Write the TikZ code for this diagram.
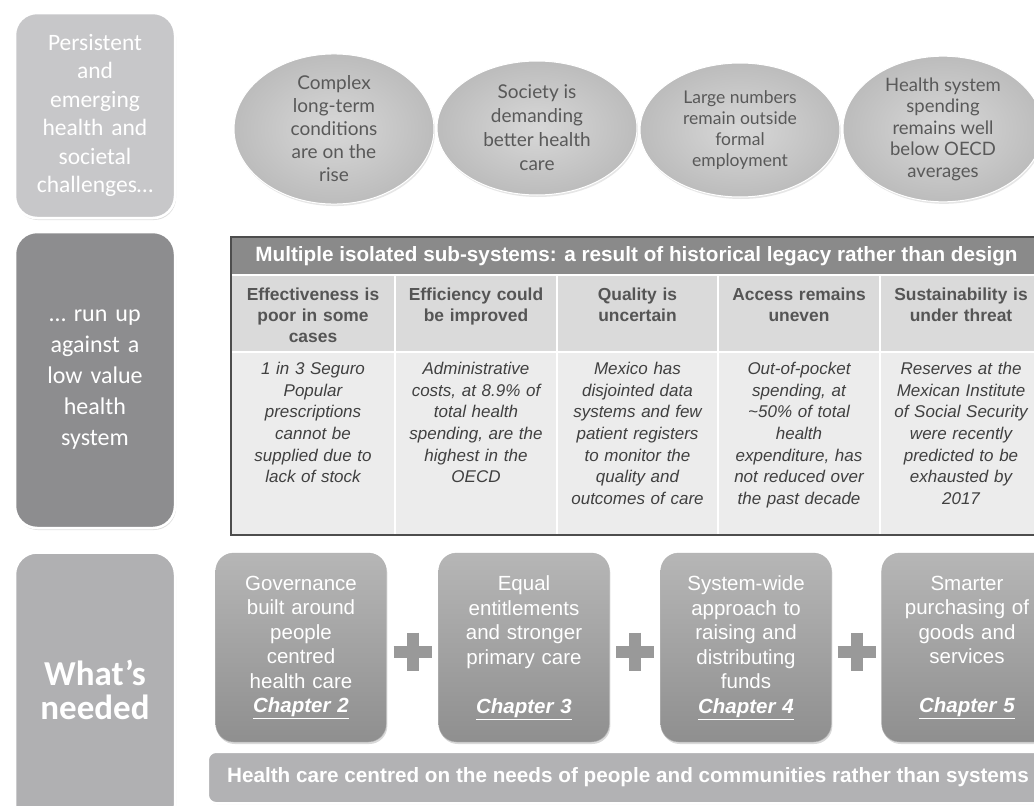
\documentclass[tikz,border=0pt]{standalone}
\usepackage{fontspec}
\setmainfont{Liberation Sans}
\newfontfamily\calfont{Carlito}
\newfontfamily\twfont{Lato}
\usetikzlibrary{shapes.geometric, shadows, calc, positioning}
\definecolor{sidelite}{RGB}{199, 199, 201}
\definecolor{sidedark}{RGB}{141, 141, 143}
\definecolor{sidemid}{RGB}{176, 176, 178}
\definecolor{ellin}{RGB}{216, 216, 216}
\definecolor{ellout}{RGB}{188, 188, 188}
\definecolor{elltext}{RGB}{89, 89, 89}
\definecolor{tabhead}{RGB}{138, 138, 138}
\definecolor{tabcol}{RGB}{218, 218, 218}
\definecolor{tabbody}{RGB}{236, 236, 236}
\definecolor{tabline}{RGB}{77, 77, 77}
\definecolor{coltext}{RGB}{85, 85, 85}
\definecolor{bodytext}{RGB}{64, 64, 64}
\definecolor{acttop}{RGB}{182, 182, 182}
\definecolor{actbot}{RGB}{143, 143, 143}
\definecolor{plusgray}{RGB}{153, 153, 153}
\definecolor{barfill}{RGB}{178, 178, 180}
\tikzset{
  sidebox/.style={rectangle, rounded corners=22pt, draw=white, line width=2.5pt, fill=#1,
                  minimum width=160pt, text width=150pt, align=center, text=white,
                  drop shadow={shadow xshift=1pt, shadow yshift=-2pt, opacity=0.25}},
  issue/.style={ellipse, draw=white, line width=1pt, inner color=ellin, outer color=ellout,
                minimum width=200pt, minimum height=134pt, inner sep=0pt, align=center,
                text=elltext, drop shadow={shadow xshift=1pt, shadow yshift=-2pt, opacity=0.2}},
  colhead/.style={anchor=north, inner sep=0pt, text width=158pt, align=center, text=coltext,
                  font=\bfseries\fontsize{17.4}{21}\selectfont},
  colbody/.style={anchor=north, inner sep=0pt, text width=160pt, align=center, text=bodytext,
                  font=\itshape\fontsize{17}{21.7}\selectfont},
  actbox/.style={rectangle, rounded corners=18pt, top color=acttop, bottom color=actbot,
                 draw=black!30, minimum width=168pt, minimum height=189pt, text width=164pt,
                 align=center, text=white, font=\fontsize{20.5}{24.5}\selectfont,
                 drop shadow={shadow xshift=1pt, shadow yshift=-2pt, opacity=0.3}},
  plusbar/.style={line width=12pt, color=plusgray},
  footbar/.style={rectangle, rounded corners=8pt, draw=white, line width=2pt, fill=barfill,
                  minimum width=840pt, minimum height=51pt, text=white,
                  font=\bfseries\fontsize{20.7}{24}\selectfont,
                  drop shadow={shadow xshift=1pt, shadow yshift=-1pt, opacity=0.2}},
}
\newcommand{\chap}[1]{\underline{\textbf{\textit{Chapter #1}}}}

\begin{document}
\begin{tikzpicture}[x=1pt, y=-1pt]
  \useasboundingbox (0,0) rectangle (1034,806);
  \clip (0,0) rectangle (1034,806);

  % left column
  \node[sidebox=sidelite, minimum height=205pt, font=\calfont\fontsize{23.5}{28.5}\selectfont]
    (challenges) at (95,115.5) {Persistent\\and\\emerging\\health and\\societal\\challenges…};
  \node[sidebox=sidedark, minimum height=296pt, font=\calfont\fontsize{24}{31}\selectfont]
    (lowvalue) at (95,380) {… run up\\against a\\low value\\health\\system};
  \node[sidebox=sidemid, minimum height=275pt, font=\calfont\bfseries\fontsize{35}{34}\selectfont]
    (needed) at (95,690) {What’s\\needed};

  % challenges
  \node[issue, font=\twfont\fontsize{19}{23}\selectfont] (longterm) at (334,129)
    {Complex\\long-term\\conditions\\are on the\\rise};
  \node[issue, font=\twfont\fontsize{19}{24}\selectfont] (society) at (537,128)
    {Society is\\demanding\\better health\\care};
  \node[issue, font=\twfont\fontsize{17.5}{21}\selectfont] (informal) at (740,130)
    {Large numbers\\remain outside\\formal\\employment};
  \node[issue, font=\twfont\fontsize{18.5}{21.5}\selectfont] (spending) at (943,129)
    {Health system\\spending\\remains well\\below OECD\\averages};

  % table of weaknesses
  \fill[tabhead] (231,237) rectangle (1042,275);
  \fill[tabcol] (231,275) rectangle (1042,352);
  \fill[tabbody] (231,352) rectangle (1042,535);
  \draw[white, line width=2pt] (231,275) -- (1042,275) (231,352) -- (1042,352);
  \foreach \x in {395,557,718,880}
    \draw[white, line width=2pt] (\x,275) -- (\x,535);
  \draw[tabline, line width=2pt] (231,237) rectangle (1042,535);
  \node[text=white, font=\bfseries\fontsize{20.7}{24}\selectfont] (legacy) at (636.5,256)
    {Multiple isolated sub-systems: a result of historical legacy rather than design};
  \foreach \x/\hd [count=\i] in {313/{Effectiveness is\\poor in some\\cases},
      476/{Efficiency could\\be improved}, 637.5/{Quality is\\uncertain},
      799/{Access remains\\uneven}, 961/{Sustainability is\\under threat}}
    \node[colhead] (head\i) at (\x,286) {\strut\hd};
  \foreach \x/\bd [count=\i] in {313/{1 in 3 Seguro\\Popular\\prescriptions\\cannot be\\supplied due to\\lack of stock},
      476/{Administrative\\costs, at 8.9\% of\\total health\\spending, are the\\highest in the\\OECD},
      637.5/{Mexico has\\disjointed data\\systems and few\\patient registers\\to monitor the\\quality and\\outcomes of care},
      799/{Out-of-pocket\\spending, at\\\textasciitilde50\% of total\\health\\expenditure, has\\not reduced over\\the past decade},
      961/{Reserves at the\\Mexican Institute\\of Social Security\\were recently\\predicted to be\\exhausted by\\2017}}
    \node[colbody] (body\i) at (\x,359) {\strut\bd};

  % what's needed
  \node[actbox] (governance) at (301,647.5)
    {Governance\\built around\\people\\centred\\health care\\\chap{2}};
  \node[actbox] (entitle) at (524,647.5)
    {Equal\\entitlements\\and stronger\\primary care\\[24.5pt]\chap{3}};
  \node[actbox] (funds) at (746,647.5)
    {System-wide\\approach to\\raising and\\distributing\\funds\\\chap{4}};
  \node[actbox] (purchase) at (967,647.5)
    {Smarter\\purchasing of\\goods and\\services\\[24.5pt]\chap{5}};
  \foreach \a/\b [count=\i] in {governance/entitle, entitle/funds, funds/purchase} {
    \coordinate (plus\i) at ($(\a.east)!0.5!(\b.west)+(0,4)$);
    \draw[plusbar] ($(plus\i)+(-19,0)$) -- ($(plus\i)+(19,0)$);
    \draw[plusbar] ($(plus\i)+(0,-19)$) -- ($(plus\i)+(0,19)$);
  }
  \node[footbar] (people) at (628,777.5)
    {Health care centred on the needs of people and communities rather than systems};
\end{tikzpicture}
\end{document}
